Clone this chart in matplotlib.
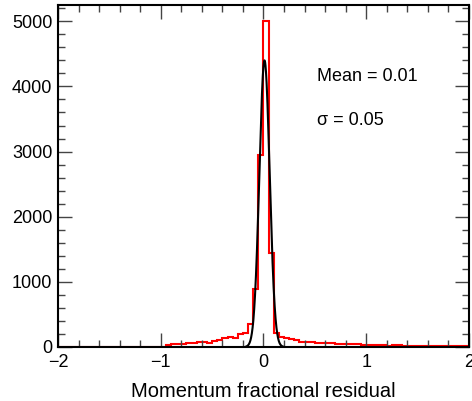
import numpy as np
import matplotlib
matplotlib.use('Agg')
import matplotlib.pyplot as plt
from matplotlib.ticker import MultipleLocator

plt.rcParams['font.family'] = ['Liberation Sans', 'DejaVu Sans']

# histogram: 80 bins over [-2, 2]
x_lo, x_hi, n_bins = -2.0, 2.0, 80
counts_far_left = [0]*18 + [2, 3]
counts_left_tail = [5, 31, 41, 41, 51, 61, 61, 72, 82, 61, 92, 112, 143, 158, 143, 204, 220]
counts_core = [358, 895, 2940, 5000, 1447, 210]
counts_right_tail = [153, 143, 128, 102, 82, 77, 72, 66, 66, 61, 61, 51, 46, 41, 41, 41, 36]
counts_far_right = [35, 33, 30, 28, 22, 25, 28, 20, 18, 22, 18, 15, 17, 14, 12, 14, 10, 12, 10, 8]
counts = np.array(counts_far_left + counts_left_tail + counts_core
                  + counts_right_tail + counts_far_right)

# gaussian fit
fit_amp = 4400
fit_mean = 0.01
fit_sigma = 0.05
fit_range = (-0.17, 0.19)

edges = np.linspace(x_lo, x_hi, n_bins + 1)

fig = plt.figure(figsize=(4.72, 4.01), dpi=100)
ax = fig.add_axes([0.1229, 0.1347, 0.8707, 0.8528])

ax.stairs(counts, edges, color='#ff0000', lw=1.5)

xf = np.linspace(fit_range[0], fit_range[1], 400)
yf = fit_amp*np.exp(-0.5*((xf - fit_mean)/fit_sigma)**2)
ax.plot(xf, yf, color='black', lw=1.5)

ax.text(0.52, 4156, 'Mean = 0.01', fontsize=13, va='center')
ax.text(0.52, 3480, '\u03c3 = 0.05', fontsize=13, va='center')

ax.set_xlim(x_lo, x_hi)
ax.set_ylim(0, 5250)
ax.xaxis.set_major_locator(MultipleLocator(1))
ax.xaxis.set_minor_locator(MultipleLocator(0.2))
ax.yaxis.set_major_locator(MultipleLocator(1000))
ax.yaxis.set_minor_locator(MultipleLocator(200))
ax.tick_params(which='both', direction='in', top=True, right=True, labelsize=13, color='#444444')
ax.tick_params(which='major', length=10, width=1.0)
ax.tick_params(which='minor', length=5, width=1.0)
ax.tick_params(axis='x', pad=5)
ax.tick_params(axis='y', pad=4)
for s in ax.spines.values():
    s.set_linewidth(1.5)

ax.set_xlabel('Momentum fractional residual', fontsize=14.5, labelpad=8)

plt.savefig('out.png', dpi=100)
